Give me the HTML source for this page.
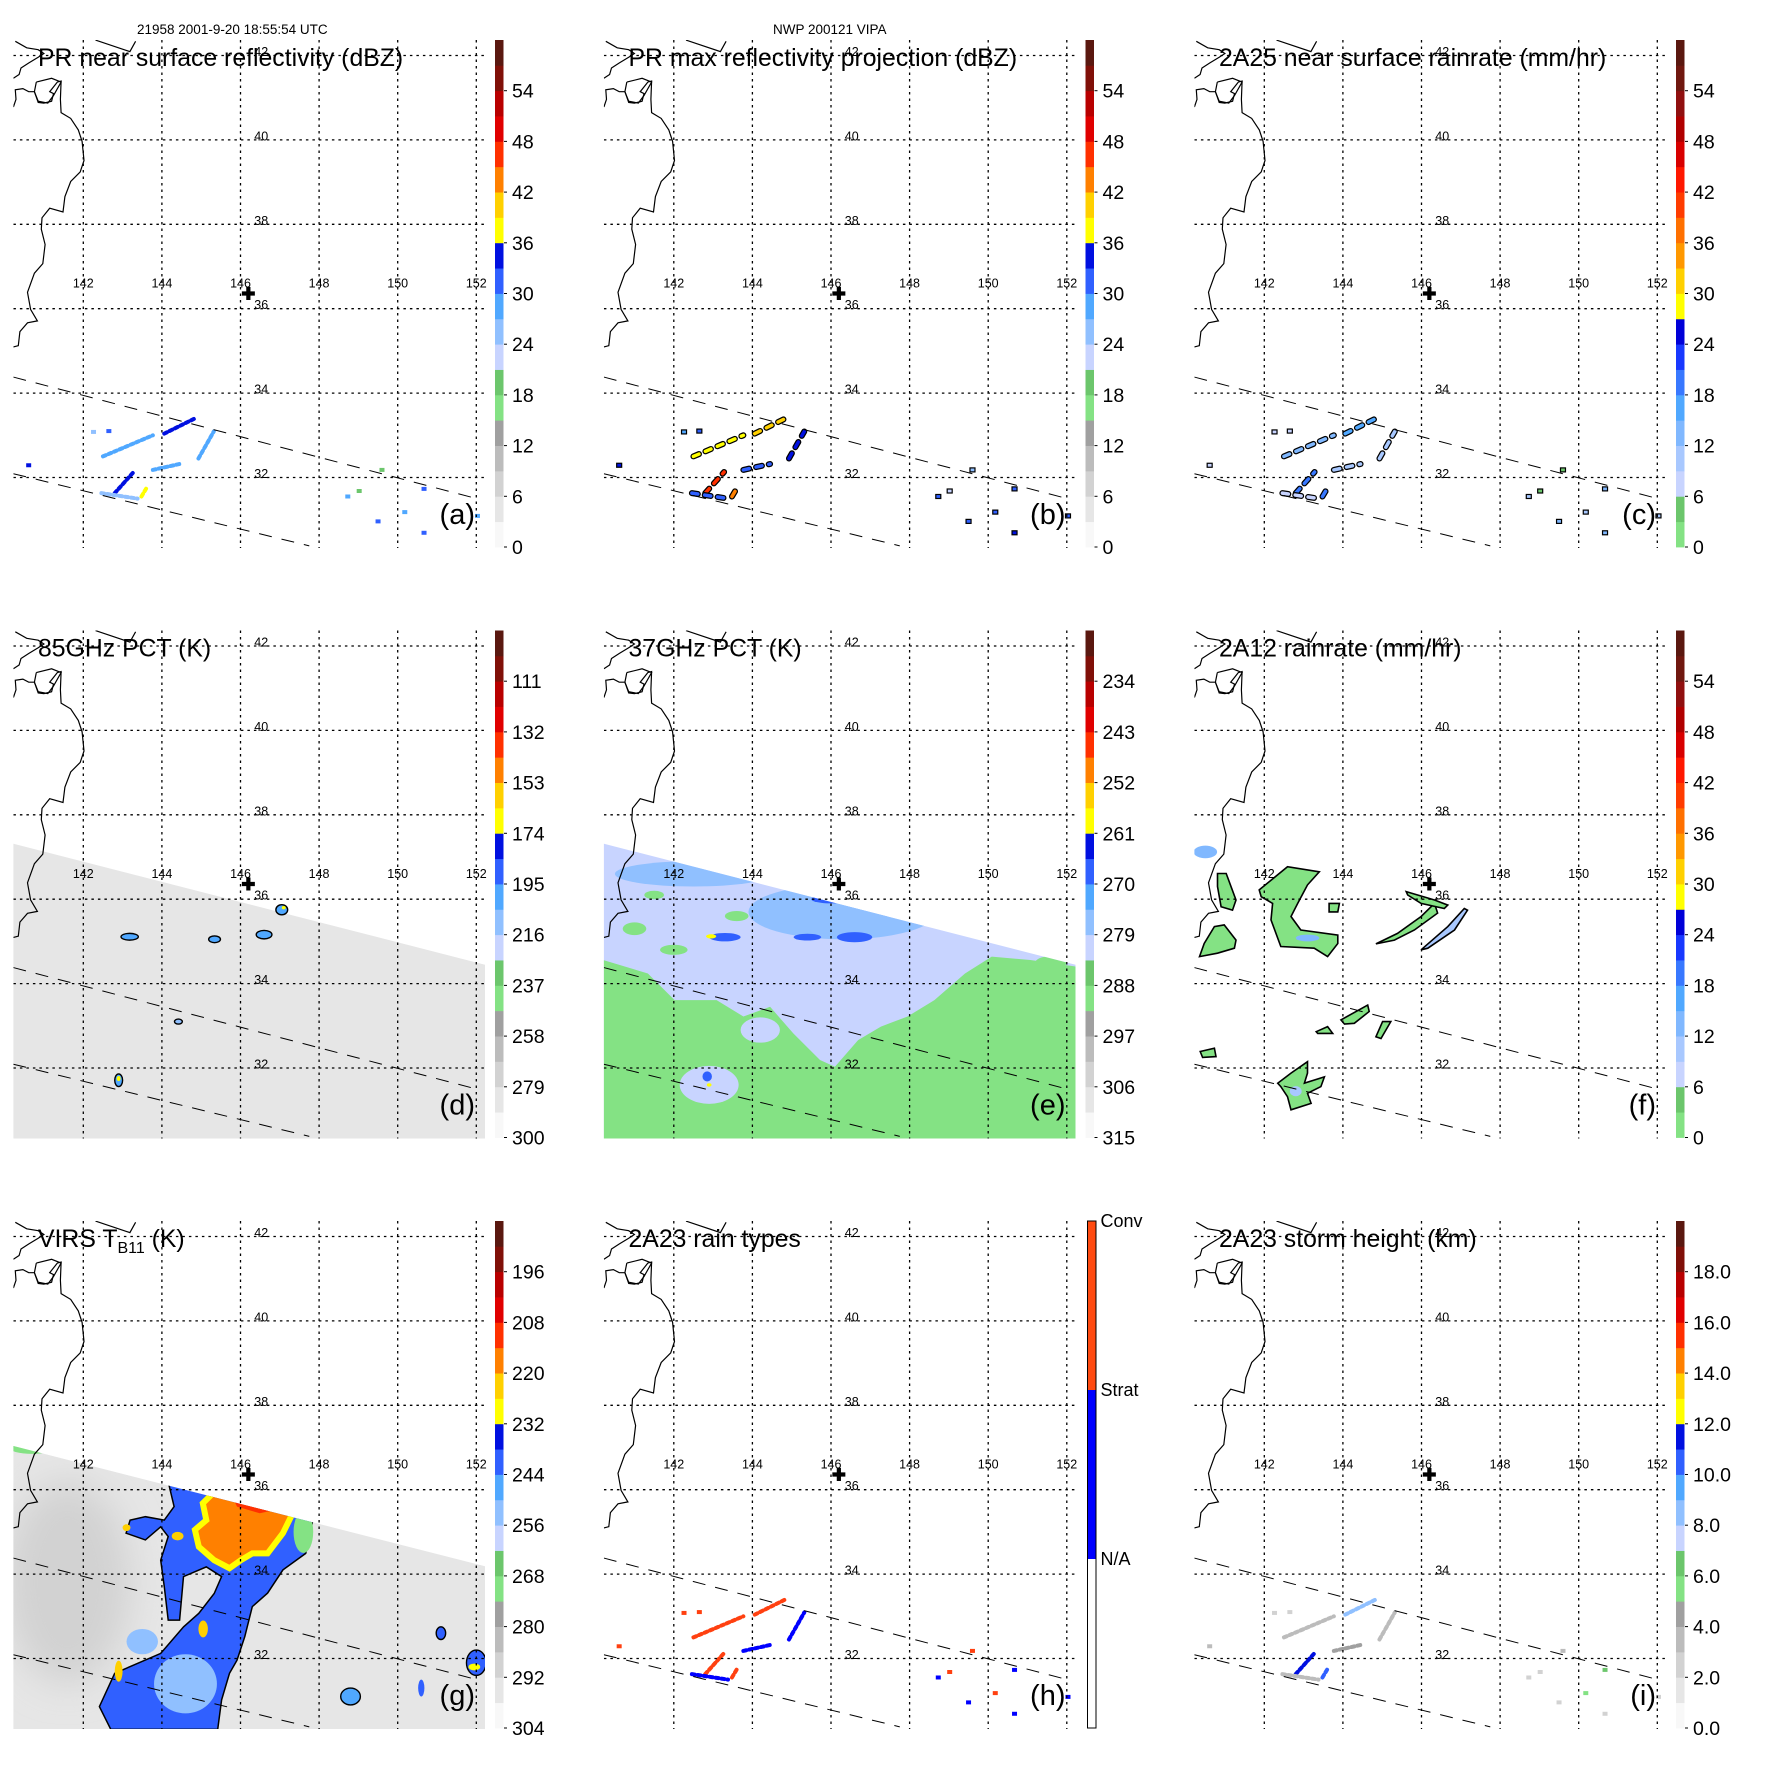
<!DOCTYPE html>
<html><head><meta charset="utf-8"><style>
html,body{margin:0;padding:0;background:#fff;}
svg{display:block;font-family:"Liberation Sans",sans-serif;}
</style></head><body>
<svg id="fig" width="1771" height="1771" viewBox="0 0 1771 1771" xmlns="http://www.w3.org/2000/svg">
<rect width="1771" height="1771" fill="#ffffff"/>
</svg>
<script>
// ---------- data arrays ----------
const gridLons=[142,144,146,148,150,152];
const gridLats=[32,34,36,38,40,42];
const ticksAB=["54","48","42","36","30","24","18","12","6","0"];
const ticksD=["111","132","153","174","195","216","237","258","279","300"];
const ticksE=["234","243","252","261","270","279","288","297","306","315"];
const ticksG=["196","208","220","232","244","256","268","280","292","304"];
const ticksI=["18.0","16.0","14.0","12.0","10.0","8.0","6.0","4.0","2.0","0.0"];
const typeLabels=["Conv","Strat","N/A"];
// PR streak geometry
const sLon1=[142.50,144.06,144.93,142.80,143.48,143.77,142.46];
const sLat1=[32.50,33.04,32.45,31.63,31.55,32.18,31.63];
const sLon2=[143.77,144.84,145.32,143.28,143.62,144.45,143.38];
const sLat2=[33.00,33.40,33.09,32.13,31.77,32.32,31.50];
const valsA=[28,33,28,34,36,27,26];
const valsB=[38,40,33,45,42,32,30];
const valsC=[12,16,10,18,20,10,8];
const valsH=[2,2,1,2,2,1,1];
const valsI=[3,8,3,11,10,4,3];
// PR dots
const dLon=[140.61,148.73,149.50,150.18,150.67,150.67,152.03,149.60,149.02,142.26,142.65];
const dLat=[32.29,31.55,30.96,31.18,31.73,30.69,31.09,32.18,31.68,33.08,33.10];
const dValsA=[35,28,30,29,30,31,29,20,18,24,30];
const dValsB=[35,30,32,30,31,33,30,25,22,28,31];
const dValsC=[8,10,12,10,12,14,10,4,3,6,8];
const dValsH=[2,1,1,2,1,1,1,2,2,2,2];
const dValsI=[3,2,2,5,6,2,2,3,2,2,2];
// TMI 85GHz blobs [lon,lat,rlon,rlat,value]
const blobsD=[[143.18,35.11,0.22,0.08,200],[145.34,35.05,0.15,0.08,205],[146.6,35.16,0.2,0.1,200],[147.05,35.75,0.15,0.12,200],[144.42,33.10,0.1,0.06,215],[142.9,31.71,0.1,0.15,200],[142.9,31.75,0.05,0.06,170],[147.1,35.8,0.05,0.04,170]];
// TMI 37GHz patches
const swathV_E=283, greenV_E=290;
const greenLon=[140.2,141.34,142.02,143.09,143.77,144.45,145.04,145.72,146.10,146.69,147.27,147.95,148.63,149.41,150.09,151.07,152.25,152.25,140.2];
const greenLat=[34.56,34.24,33.61,33.61,33.22,33.45,32.82,32.19,32.03,32.66,32.98,33.22,33.61,34.24,34.64,34.56,34.40,30.3,30.3];
const patchesE=[[141.0,35.3,0.3,0.15,290],[142.0,34.8,0.35,0.12,290],[143.6,35.6,0.3,0.12,290],[141.5,36.1,0.25,0.1,290],[150.6,34.1,0.6,0.2,290],[151.6,34.5,0.4,0.15,290],
 [146.3,35.7,2.4,0.65,279],[142.5,36.6,2.0,0.3,279],[146.6,35.7,0.9,0.35,275],
 [146.0,36.0,0.5,0.1,266],[146.6,35.1,0.45,0.12,266],[145.4,35.1,0.35,0.08,266],[143.3,35.1,0.4,0.1,266],
 [142.95,35.12,0.13,0.05,259],[147.1,35.8,0.08,0.05,259],
 [142.9,31.6,0.75,0.45,283],[144.2,32.9,0.5,0.3,281],[142.85,31.8,0.12,0.12,266],[142.9,31.6,0.06,0.04,259]];
// TMI rain polygons
const polysF=[
 [[141.87,36.22],[142.59,36.77],[143.40,36.65],[143.10,36.34],[142.85,35.90],[142.68,35.59],[142.93,35.27],[143.87,35.15],[143.87,34.95],[143.61,34.64],[143.27,34.84],[142.42,34.88],[142.17,35.51],[142.21,35.90],[141.92,36.06]],
 [[140.35,34.64],[140.47,34.95],[140.73,35.35],[140.98,35.39],[141.28,35.03],[141.24,34.84],[140.81,34.72]],
 [[140.81,36.61],[141.03,36.61],[141.28,35.98],[141.19,35.74],[140.90,35.82],[140.81,36.3]],
 [[144.84,34.94],[145.39,35.19],[145.99,35.59],[146.33,35.90],[146.41,35.67],[145.82,35.27],[145.31,35.03]],
 [[145.61,36.18],[146.33,35.98],[146.67,35.86],[146.58,35.78],[145.99,35.90],[145.65,36.10]],
 [[145.99,34.80],[146.67,35.35],[147.09,35.78],[147.17,35.74],[146.84,35.27],[146.16,34.84]],
 [[142.34,31.64],[142.68,31.88],[143.10,32.15],[143.10,31.88],[143.02,31.64],[143.53,31.79],[143.44,31.56],[143.10,31.40],[143.19,31.16],[142.68,31.01],[142.59,31.32],[142.42,31.56]],
 [[143.95,33.14],[144.63,33.49],[144.67,33.34],[144.29,33.06],[144.04,33.04]],
 [[144.84,32.74],[145.01,33.10],[145.22,33.10],[144.97,32.70]],
 [[143.32,32.86],[143.61,32.98],[143.74,32.82],[143.36,32.82]],
 [[140.37,32.39],[140.73,32.47],[140.77,32.27],[140.43,32.25]],
 [[143.65,35.90],[143.91,35.90],[143.87,35.70],[143.65,35.70]]];
const polyValsF=[2,2,2,2,2,10,2,2,2,2,2,2];
const patchesF=[[140.5,37.12,0.3,0.15,12],[143.1,35.08,0.3,0.08,13],[142.8,31.45,0.15,0.12,10]];
// VIRS regions
const blueLon=[144.16,144.94,147.86,147.66,147.08,146.69,146.30,146.11,145.91,145.72,145.52,145.42,142.70,142.41,142.80,143.97,144.55,144.94,145.33,145.52,145.13,144.55,144.45,144.16,144.06,143.97,144.16,143.97,143.58,143.09,143.19,143.58,144.06,144.31];
const blueLat=[36.19,36.07,35.36,34.49,34.10,33.55,33.23,32.52,31.96,31.65,31.02,30.32,30.32,30.86,31.65,32.12,32.75,33.07,33.54,33.94,34.17,33.94,32.91,32.91,33.70,34.33,34.89,35.12,34.81,34.97,35.28,35.36,35.28,35.60];
const orangeLon=[145.38,147.37,147.08,146.69,146.30,146.01,145.72,145.33,144.94,144.84,145.13,145.04];
const orangeLat=[35.99,35.52,34.97,34.49,34.49,34.33,34.14,34.33,34.65,35.05,35.28,35.68];
const redLon=[145.72,147.08,146.49,145.91];
const redLat=[35.99,35.56,35.44,35.60];
const blueV=242, orangeV=215, rimV=228, redV=209, swathV_G=296;
const patchesG=[[141.6,33.8,1.6,2.4,289],[144.6,31.4,0.8,0.7,252],[143.5,32.4,0.4,0.3,252],[140.7,37.0,0.6,0.15,272],[147.6,35.0,0.25,0.5,270],
 [151.1,32.6,0.12,0.15,242],[152.0,31.9,0.25,0.3,242],[151.95,31.8,0.15,0.08,228],[148.8,31.1,0.25,0.2,250],[150.6,31.3,0.08,0.2,242],
 [145.05,32.7,0.12,0.2,225],[142.9,31.7,0.1,0.25,222],[143.1,35.1,0.1,0.08,222],[144.4,34.9,0.15,0.1,222]];

// ---------- palettes ----------
const palA=['#f8f8f8','#e6e6e6','#d2d2d2','#bcbcbc','#a0a0a0','#84e284','#6cc66c','#c8d4ff','#90c0ff','#50a8ff','#3060ff','#0010e0','#ffff00','#ffd000','#ff8000','#ff3000','#e00000','#b80000','#801008','#5a1810'];
const palC=['#84e284','#6cc66c','#c8d4ff','#a8c8ff','#80b8ff','#50a8ff','#3878ff','#1838ff','#0000d8','#ffff00','#ffd000','#ff9800','#ff7000','#ff3c00','#ff1800','#d80000','#b00000','#901010','#701810','#5a1810'];

// ---------- axes ----------
const X0=83.3, DX=39.3, Y0=477.5, DY=42.2;
function lonX(l){return X0+(l-142)*DX;}
function latY(t){return Y0-(t-32)*DY;}
const MAPL=13.4, MAPR=485, MAPT=40, MAPB=548;
const BARX=495, BARW=8.5, BART=40, BARB=547;

const NS='http://www.w3.org/2000/svg';
const svg=document.getElementById('fig');
function mk(tag,parent){const e=document.createElementNS(NS,tag);parent.appendChild(e);return e;}
function pts(arr){return arr.map(p=>lonX(p[0]).toFixed(1)+','+latY(p[1]).toFixed(1)).join(' ');}
function ptsXY(lo,la){return lo.map((l,i)=>lonX(l).toFixed(1)+','+latY(la[i]).toFixed(1)).join(' ');}

const coastMain=[[35,280],[42,260],[40,235],[60,232],[75,240],[90,240],[100,268],[115,270],[135,265],[140,245],[130,240],[150,215],[160,212],[158,260],[160,295],[185,310],[205,340],[215,370],[220,420],[210,450],[185,475],[170,515],[165,555],[130,545],[110,570],[108,600],[118,640],[112,690],[90,715],[72,765],[80,810],[98,840],[72,845],[52,868],[48,905],[35,908]];
const coastLoop=[[95,215],[135,205],[160,215],[140,250],[125,270],[100,265],[90,240],[95,215]];
const coastTop1=[[40,108],[70,125],[100,130],[115,140],[100,150],[75,165],[55,178],[50,195],[35,205]];
const coastTop2=[[250,105],[340,135],[355,108]];
const CS=2.6176;

function frac(p,v){
  if(p.key==='d') return (300-v)/210;
  if(p.key==='e') return (315-v)/90;
  if(p.key==='g') return (304-v)/120;
  if(p.key==='i') return v/20;
  return v/60;
}
function col(p,v){
  if(p.key==='h') return v===2?'#ff4010':'#0000ff';
  const pal=p.pal==='C'?palC:palA;
  let k=Math.floor(frac(p,v)*20); if(k<0)k=0; if(k>19)k=19;
  return pal[k];
}

const panels=[
 {key:'a',ox:0,oy:0,title:'PR near surface reflectivity (dBZ)',ticks:ticksAB,pal:'A',sv:valsA,dv:dValsA,contour:false},
 {key:'b',ox:590.5,oy:0,title:'PR max reflectivity projection (dBZ)',ticks:ticksAB,pal:'A',sv:valsB,dv:dValsB,contour:true},
 {key:'c',ox:1181,oy:0,title:'2A25 near surface rainrate (mm/hr)',ticks:ticksAB,pal:'C',sv:valsC,dv:dValsC,contour:true},
 {key:'d',ox:0,oy:590.5,title:'85GHz PCT (K)',ticks:ticksD,pal:'A'},
 {key:'e',ox:590.5,oy:590.5,title:'37GHz PCT (K)',ticks:ticksE,pal:'A'},
 {key:'f',ox:1181,oy:590.5,title:'2A12 rainrate (mm/hr)',ticks:ticksAB,pal:'C'},
 {key:'g',ox:0,oy:1181,title:'VIRS',ticks:ticksG,pal:'A'},
 {key:'h',ox:590.5,oy:1181,title:'2A23 rain types',ticks:null,pal:'A',sv:valsH,dv:dValsH,contour:false},
 {key:'i',ox:1181,oy:1181,title:'2A23 storm height (km)',ticks:ticksI,pal:'A',sv:valsI,dv:dValsI,contour:false}
];

const defs=mk('defs',svg);
const blurF=mk('filter',defs); blurF.setAttribute('id','soft'); blurF.setAttribute('x','-50%'); blurF.setAttribute('y','-50%'); blurF.setAttribute('width','200%'); blurF.setAttribute('height','200%');
const gb=mk('feGaussianBlur',blurF); gb.setAttribute('stdDeviation','18');

function ellipse(g,p,b,outline){
  const e=mk('ellipse',g);
  
  
  e.setAttribute('cx',lonX(b[0]));e.setAttribute('cy',latY(b[1]));
  e.setAttribute('rx',b[2]*DX);e.setAttribute('ry',b[3]*DY);
  e.setAttribute('fill',col(p,b[4]));
  if(outline){e.setAttribute('stroke','#000');e.setAttribute('stroke-width','1.4');}
  return e;
}

panels.forEach(p=>{
  const g=mk('g',svg);
  
  
  g.setAttribute('transform','translate('+p.ox+','+p.oy+')');

  const cp=mk('clipPath',defs); cp.setAttribute('id','clip-'+p.key);
  const cr=mk('rect',cp); cr.setAttribute('x',MAPL);cr.setAttribute('y',MAPT);cr.setAttribute('width',MAPR-MAPL);cr.setAttribute('height',MAPB-MAPT);

  const m=mk('g',g);
  
  
  m.setAttribute('clip-path','url(#clip-'+p.key+')');

  let swClip=null;
  if(p.key==='d'||p.key==='e'||p.key==='g'){
    const top=p.key==='g'?[[140.2,37.04],[152.25,34.18]]:[[140.2,37.32],[152.25,34.44]];
    const sw=mk('polygon',m);
    
    
    sw.setAttribute('points',pts([top[0],top[1],[152.25,30.3],[140.2,30.3]]));
    sw.setAttribute('fill',col(p,p.key==='d'?285:(p.key==='e'?swathV_E:swathV_G)));
    const cp2=mk('clipPath',defs);cp2.setAttribute('id','sw-'+p.key);const pp=mk('polygon',cp2);pp.setAttribute('points',sw.getAttribute('points'));
    swClip='url(#sw-'+p.key+')';
  }
  if(p.key==='d'){ blobsD.forEach(b=>ellipse(m,p,b,b[4]>180)); }
  if(p.key==='e'){
    const sg0=mk('g',m); sg0.setAttribute('clip-path',swClip);
    const gp=mk('polygon',sg0);
    
    
    gp.setAttribute('points',ptsXY(greenLon,greenLat));
    gp.setAttribute('fill',col(p,greenV_E));
    patchesE.forEach(b=>ellipse(sg0,p,b,false));
  }
  if(p.key==='f'){
    patchesF.slice(0,1).forEach(b=>ellipse(m,p,b,false));
    polysF.forEach((poly,i)=>{
      const pg=mk('polygon',m);
      
      
      pg.setAttribute('points',pts(poly));
      pg.setAttribute('fill',col(p,polyValsF[i]));
      pg.setAttribute('stroke','#000');pg.setAttribute('stroke-width','1.6');
    });
    patchesF.slice(1).forEach(b=>ellipse(m,p,b,false));
  }
  if(p.key==='g'){
    const sg=mk('g',m); sg.setAttribute('clip-path',swClip);
    const dk=ellipse(sg,p,patchesG[0],false); dk.setAttribute('filter','url(#soft)');
    const bp=mk('polygon',sg);
    
    
    bp.setAttribute('points',ptsXY(blueLon,blueLat));
    bp.setAttribute('fill',col(p,blueV));bp.setAttribute('stroke','#000');bp.setAttribute('stroke-width','1.5');
    patchesG.slice(1,5).forEach(b=>ellipse(sg,p,b,false));
    const op=mk('polygon',sg);
    
    
    op.setAttribute('points',ptsXY(orangeLon,orangeLat));
    op.setAttribute('fill',col(p,orangeV));op.setAttribute('stroke',col(p,rimV));op.setAttribute('stroke-width','6');
    const rp=mk('polygon',sg);
    
    
    rp.setAttribute('points',ptsXY(redLon,redLat));
    rp.setAttribute('fill',col(p,redV));
    patchesG.slice(5).forEach(b=>ellipse(sg,p,b,b[4]>235&&b[2]>0.1));
  }
  if(p.sv){
    sLon1.forEach((l,i)=>{
      if(p.contour){
        const u=mk('line',m);
        
        
        u.setAttribute('x1',lonX(l));u.setAttribute('y1',latY(sLat1[i]));u.setAttribute('x2',lonX(sLon2[i]));u.setAttribute('y2',latY(sLat2[i]));
        u.setAttribute('stroke','#000');u.setAttribute('stroke-width','6');u.setAttribute('stroke-linecap','round');u.setAttribute('stroke-dasharray','6,7');
      }
      const s=mk('line',m);
      
      
      s.setAttribute('x1',lonX(l));s.setAttribute('y1',latY(sLat1[i]));s.setAttribute('x2',lonX(sLon2[i]));s.setAttribute('y2',latY(sLat2[i]));
      s.setAttribute('stroke',col(p,p.sv[i]));s.setAttribute('stroke-width',p.contour?'3.5':'4');s.setAttribute('stroke-linecap','round');s.setAttribute('stroke-dasharray',p.contour?'6,7':'3,3');
    });
    dLon.forEach((l,i)=>{
      const r=mk('rect',m);
      
      
      r.setAttribute('x',lonX(l)-2.5);r.setAttribute('y',latY(dLat[i])-2);r.setAttribute('width',5);r.setAttribute('height',4);
      r.setAttribute('fill',col(p,p.dv[i]));
      if(p.contour){r.setAttribute('stroke','#000');r.setAttribute('stroke-width','1.2');}
    });
  }
  gridLons.forEach(l=>{
    const ln=mk('line',m);
    
    
    ln.setAttribute('x1',lonX(l));ln.setAttribute('x2',lonX(l));ln.setAttribute('y1',MAPT);ln.setAttribute('y2',MAPB);
    ln.setAttribute('stroke','#000');ln.setAttribute('stroke-width','1.3');ln.setAttribute('stroke-dasharray','2.5,4');
  });
  gridLats.forEach(t=>{
    const ln=mk('line',m);
    
    
    ln.setAttribute('y1',latY(t));ln.setAttribute('y2',latY(t));ln.setAttribute('x1',MAPL);ln.setAttribute('x2',MAPR);
    ln.setAttribute('stroke','#000');ln.setAttribute('stroke-width','1.3');ln.setAttribute('stroke-dasharray','2.5,4');
  });
  [coastMain,coastLoop,coastTop1,coastTop2].forEach(c=>{
    const pl=mk('polyline',m);
    
    
    pl.setAttribute('points',c.map(q=>(q[0]/CS).toFixed(1)+','+(q[1]/CS).toFixed(1)).join(' '));
    pl.setAttribute('fill','none');pl.setAttribute('stroke','#000');pl.setAttribute('stroke-width','1.2');
  });
  [[[140.22,34.38],[151.97,31.51]],[[140.22,32.09],[147.75,30.38]]].forEach(e=>{
    const ln=mk('line',m);
    
    
    ln.setAttribute('x1',lonX(e[0][0]));ln.setAttribute('y1',latY(e[0][1]));ln.setAttribute('x2',lonX(e[1][0]));ln.setAttribute('y2',latY(e[1][1]));
    ln.setAttribute('stroke','#000');ln.setAttribute('stroke-width','1');ln.setAttribute('stroke-dasharray','13,10');
  });
  gridLons.forEach(l=>{
    const t=mk('text',g);
    
    
    t.setAttribute('x',lonX(l));t.setAttribute('y',287.5);t.setAttribute('font-size','12.5');t.setAttribute('text-anchor','middle');
    t.textContent=String(l);
  });
  gridLats.forEach(la=>{
    const t=mk('text',g);
    
    
    t.setAttribute('x',lonX(146.35));t.setAttribute('y',latY(la)+0.5);t.setAttribute('font-size','12.5');
    t.textContent=String(la);
  });
  const cx=lonX(146.2), cy=latY(36.36);
  const cross=mk('path',g);
  
  
  cross.setAttribute('d','M'+(cx-6.5)+','+cy+'H'+(cx+6.5)+'M'+cx+','+(cy-6.5)+'V'+(cy+6.5));
  cross.setAttribute('stroke','#000');cross.setAttribute('stroke-width','4.2');
  const tt=mk('text',g);
  
  
  tt.setAttribute('x',38);tt.setAttribute('y',66);tt.setAttribute('font-size','24.8');
  if(p.key==='g'){
    tt.textContent='VIRS T';
    const sub=mk('tspan',tt); sub.setAttribute('font-size','16'); sub.setAttribute('dy','6'); sub.textContent='B11';
    const rest=mk('tspan',tt); rest.setAttribute('dy','-6'); rest.textContent=' (K)';
  } else tt.textContent=p.title;
  const lt=mk('text',g);
  
  
  lt.setAttribute('x',475);lt.setAttribute('y',524);lt.setAttribute('font-size','29');lt.setAttribute('text-anchor','end');
  lt.textContent='('+p.key+')';
  const cb=mk('g',g);
  
  
  if(p.key==='h'){
    const third=(BARB-BART)/3;
    ['#ff4a10','#0000ff','#ffffff'].forEach((c,i)=>{
      const r=mk('rect',cb);
      
      
      r.setAttribute('x',BARX+2);r.setAttribute('y',BART+i*third);r.setAttribute('width',BARW);r.setAttribute('height',third+0.5);r.setAttribute('fill',c);
    });
    const o=mk('rect',cb);
    
    
    o.setAttribute('x',BARX+2);o.setAttribute('y',BART);o.setAttribute('width',BARW);o.setAttribute('height',BARB-BART);o.setAttribute('fill','none');o.setAttribute('stroke','#000');o.setAttribute('stroke-width','1');
    typeLabels.forEach((s,i)=>{
      const t=mk('text',cb);
      
      
      t.setAttribute('x',510);t.setAttribute('y',BART+i*third+6);t.setAttribute('font-size','18');
      t.textContent=s;
    });
  } else {
    const pal=p.pal==='C'?palC:palA;
    const h=(BARB-BART)/20;
    pal.forEach((c,i)=>{
      const r=mk('rect',cb);
      
      
      r.setAttribute('x',BARX);r.setAttribute('y',BARB-(i+1)*h);r.setAttribute('width',BARW);r.setAttribute('height',h+0.4);r.setAttribute('fill',c);
    });
    p.ticks.forEach((s,i)=>{
      const y=BARB-(9-i)*0.1*(BARB-BART);
      const tk=mk('line',cb);
      
      
      tk.setAttribute('x1',504);tk.setAttribute('x2',507);tk.setAttribute('y1',y);tk.setAttribute('y2',y);tk.setAttribute('stroke','#000');tk.setAttribute('stroke-width','1');
      const t=mk('text',cb);
      
      
      t.setAttribute('x',512);t.setAttribute('y',y+7);t.setAttribute('font-size','19.5');
      t.textContent=s;
    });
  }
});
const h1=mk('text',svg);


h1.setAttribute('x',137);h1.setAttribute('y',34);h1.setAttribute('font-size','13.5');
h1.textContent='21958 2001-9-20 18:55:54 UTC';
const h2=mk('text',svg);


h2.setAttribute('x',773);h2.setAttribute('y',34);h2.setAttribute('font-size','13.5');
h2.textContent='NWP 200121 VIPA';
</script>
</body></html>
